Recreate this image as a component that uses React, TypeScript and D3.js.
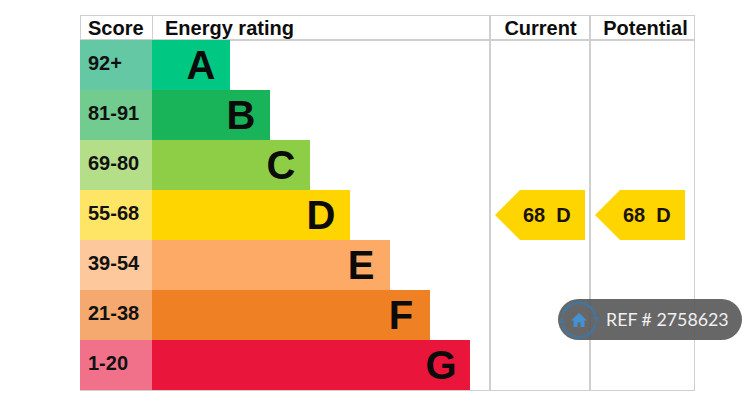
import * as React from 'react'
import * as d3 from 'd3'

const bands = ['A', 'B', 'C', 'D', 'E', 'F', 'G']
const scoreRanges = ['92+', '81-91', '69-80', '55-68', '39-54', '21-38', '1-20']
// bar length in steps, as on the EPC graphic
const barSteps = [2, 3, 4, 5, 6, 7, 8]
const barColors = ['#00c781', '#19b459', '#8dce46', '#ffd500', '#fcaa65', '#ef8023', '#e9153b']
const scoreColors = ['#64c8a5', '#72cb8f', '#b4de88', '#ffe566', '#fdc89c', '#f5a96e', '#f2718a']
const headers = ['Score', 'Energy rating', 'Current', 'Potential']
const currentScore = 68
const currentBand = 'D'
const potentialScore = 68
const potentialBand = 'D'
const refLabel = 'REF # 2758623'

const width = 754
const height = 415
const font = '"Liberation Sans", Arial, sans-serif'
const gridColor = '#cfcfcf'

const left = 80
const scoreRight = 152
const currentLeft = 490
const potentialLeft = 590
const right = 694
const top = 15
const headerBottom = 40
const bottom = 390

const x = d3.scaleLinear().domain([2, 8]).range([230, 470])
const y = d3.scaleBand<string>().domain(bands).range([headerBottom, bottom])

// pointing left, sitting inside a column
function tagPath(colRight: number, band: string) {
  const y0 = y(band) as number
  const bw = y.bandwidth()
  const p = d3.path()
  p.moveTo(colRight - 5, y0)
  p.lineTo(colRight - 5, y0 + bw)
  p.lineTo(colRight - 70, y0 + bw)
  p.lineTo(colRight - 95, y0 + bw / 2)
  p.lineTo(colRight - 70, y0)
  p.closePath()
  return p.toString()
}

function Tag({ colRight, score, band }: { colRight: number; score: number; band: string }) {
  const cy = (y(band) as number) + y.bandwidth() / 2
  return (
    <g>
      <path d={tagPath(colRight, band)} fill="#ffd500" />
      <text
        x={colRight - 67}
        y={cy + 7}
        fontFamily={font}
        fontWeight="bold"
        fontSize={20}
        fill="#1a1206"
        style={{ whiteSpace: 'pre' }}
      >
        {`${score}  ${band}`}
      </text>
    </g>
  )
}

function RefBadge() {
  const cx = 579
  const cy = 320
  const arc = d3.arc()
  const ringTop = arc({ innerRadius: 16, outerRadius: 18.5, startAngle: -1.25, endAngle: 1.3 }) as string
  const ringBottom = arc({ innerRadius: 16, outerRadius: 18.5, startAngle: 1.85, endAngle: 4.4 }) as string
  const arrow = d3.path()
  arrow.moveTo(14, -3)
  arrow.lineTo(20.5, -3)
  arrow.lineTo(17.2, 3)
  arrow.closePath()
  const house = d3.path()
  house.moveTo(-8, 0.5)
  house.lineTo(0, -7)
  house.lineTo(8, 0.5)
  house.lineTo(5.5, 0.5)
  house.lineTo(5.5, 7)
  house.lineTo(1.5, 7)
  house.lineTo(1.5, 2.5)
  house.lineTo(-1.5, 2.5)
  house.lineTo(-1.5, 7)
  house.lineTo(-5.5, 7)
  house.lineTo(-5.5, 0.5)
  house.closePath()
  return (
    <g>
      <rect x={558} y={299} width={184} height={41} rx={20.5} fill="#5e5e5e" fillOpacity={0.94} />
      <g transform={`translate(${cx},${cy})`}>
        <g fill="#44759f">
          <path d={ringTop} />
          <path d={ringBottom} />
          <path d={arrow.toString()} />
          <path d={arrow.toString()} transform="rotate(180)" />
        </g>
        <path d={house.toString()} fill="#4590d2" />
      </g>
      <text x={606} y={325.5} fontFamily="Lato, sans-serif" fontSize={17.8} fill="#f0f0f0">
        {refLabel}
      </text>
    </g>
  )
}

export default function App() {
  return (
    <svg
      width={width}
      height={height}
      viewBox={`0 0 ${width} ${height}`}
      style={{ position: 'absolute', left: 0, top: 0, display: 'block', background: '#fff' }}
    >
      {/* table frame */}
      <g stroke={gridColor} strokeWidth={1} fill="none" shapeRendering="crispEdges">
        <rect x={left + 0.5} y={top + 0.5} width={right - left} height={bottom - top} />
        <line x1={left} x2={right} y1={headerBottom - 0.5} y2={headerBottom - 0.5} strokeWidth={2} />
        <line x1={scoreRight} x2={scoreRight} y1={top} y2={headerBottom} />
        <line x1={currentLeft} x2={currentLeft} y1={top} y2={bottom} strokeWidth={2} />
        <line x1={potentialLeft} x2={potentialLeft} y1={top} y2={bottom} strokeWidth={2} />
      </g>

      {/* header row */}
      <g fontFamily={font} fontWeight="bold" fontSize={20} fill="#0d0d0d">
        <text x={88} y={34.5}>{headers[0]}</text>
        <text x={165} y={34.5}>{headers[1]}</text>
        <text x={540.5} y={34.5} textAnchor="middle">{headers[2]}</text>
        <text x={645.5} y={34.5} textAnchor="middle">{headers[3]}</text>
      </g>

      {/* bands */}
      {bands.map((band, i) => {
        const y0 = y(band) as number
        const bw = y.bandwidth()
        const barEnd = x(barSteps[i])
        return (
          <g key={band}>
            <rect x={left} y={y0} width={scoreRight - left} height={bw} fill={scoreColors[i]} />
            <rect x={scoreRight} y={y0} width={barEnd - scoreRight} height={bw} fill={barColors[i]} />
            <text
              x={88}
              y={y0 + bw / 2 + 5}
              fontFamily={font}
              fontWeight="bold"
              fontSize={20}
              fill="#111"
            >
              {scoreRanges[i]}
            </text>
            <text
              x={barEnd - 29}
              y={y0 + bw / 2 + 14}
              textAnchor="middle"
              fontFamily={font}
              fontWeight="bold"
              fontSize={40}
              fill="#0b0b0b"
            >
              {band}
            </text>
          </g>
        )
      })}

      <Tag colRight={potentialLeft} score={currentScore} band={currentBand} />
      <Tag colRight={right - 4} score={potentialScore} band={potentialBand} />

      <RefBadge />
    </svg>
  )
}
